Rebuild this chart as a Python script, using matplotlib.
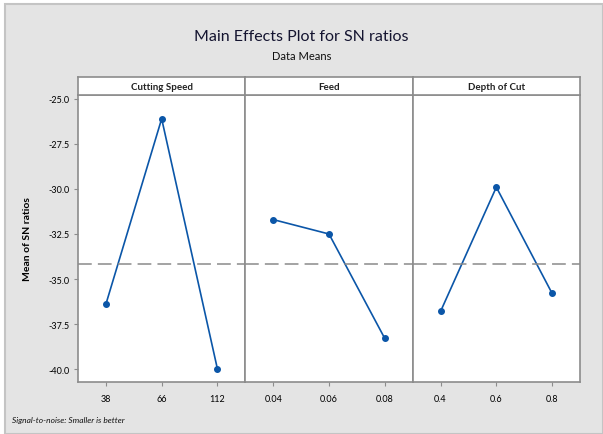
import matplotlib.pyplot as plt
from matplotlib.patches import Rectangle

plt.rcParams['font.family'] = ['Lato', 'DejaVu Sans']

# data
factors = ["Cutting Speed", "Feed", "Depth of Cut"]
levels = [["38", "66", "112"], ["0.04", "0.06", "0.08"], ["0.4", "0.6", "0.8"]]
speed_sn = [-36.4, -26.1, -40.0]
feed_sn = [-31.7, -32.5, -38.3]
depth_sn = [-36.8, -29.9, -35.8]
series = [speed_sn, feed_sn, depth_sn]
grand_mean = sum(speed_sn) / 3
yticks = [-25.0, -27.5, -30.0, -32.5, -35.0, -37.5, -40.0]

bg = "#e4e4e4"
frame = "#8c8c8c"
blue = "#0b56a8"

fig = plt.figure(figsize=(6.03, 4.35), dpi=100, facecolor="white")

W, H = 603, 435
# outer grey panel with thin border
fig.patches.append(Rectangle((5 / W, 0), 1 - 5 / W, 1 - 5 / H, transform=fig.transFigure,
                             facecolor=bg, edgecolor="#c4c4c4", lw=1.5, zorder=-1))

left, right = 78, 580
top_strip, top_data, bottom = 78, 96, 383
pw = (right - left) / 3

for i in range(3):
    x0 = left + i * pw
    ax = fig.add_axes([x0 / W, 1 - bottom / H, pw / W, (bottom - top_data) / H])
    ax.set_facecolor("white")
    ax.plot([1, 2, 3], series[i], color=blue, lw=1.2, marker="o", ms=4)
    ax.axhline(grand_mean, color="#8a8a8a", lw=1.1, dashes=(9, 4))
    ax.set_xlim(0.5, 3.5)
    ax.set_ylim(-40.72, -24.78)
    ax.set_xticks([1, 2, 3])
    ax.set_xticklabels(levels[i])
    ax.set_yticks(yticks)
    ax.tick_params(axis="x", length=3, color=frame, labelsize=6.5, pad=6)
    if i == 0:
        ax.set_yticklabels([f"{v:.1f}" for v in yticks])
        ax.tick_params(axis="y", length=3, color=frame, labelsize=6.5, pad=3)
        ax.set_ylabel("Mean of SN ratios", fontsize=7.5, fontweight="bold", labelpad=12)
    else:
        ax.tick_params(axis="y", left=False, labelleft=False)
    for s in ax.spines.values():
        s.set_color(frame)
        s.set_linewidth(1.2)

    # strip header
    sax = fig.add_axes([x0 / W, 1 - top_data / H, pw / W, (top_data - top_strip) / H])
    sax.set_facecolor("white")
    sax.set_xticks([])
    sax.set_yticks([])
    for s in sax.spines.values():
        s.set_color(frame)
        s.set_linewidth(1.2)
    sax.text(0.5, 0.5, factors[i], ha="center", va="center", fontsize=7,
             fontweight="bold", color="#222222", transform=sax.transAxes)

fig.text(0.5, 1 - 37 / H, "Main Effects Plot for SN ratios", ha="center", va="center",
         fontsize=11.5, color="#141430")
fig.text(0.5, 1 - 56 / H, "Data Means", ha="center", va="center", fontsize=8, color="#111111")
fig.text(12 / W, 1 - 421 / H, "Signal-to-noise: Smaller is better", ha="left", va="center",
         fontsize=6, style="italic", color="#111111")

fig.savefig("out.png", dpi=100, facecolor="white")
